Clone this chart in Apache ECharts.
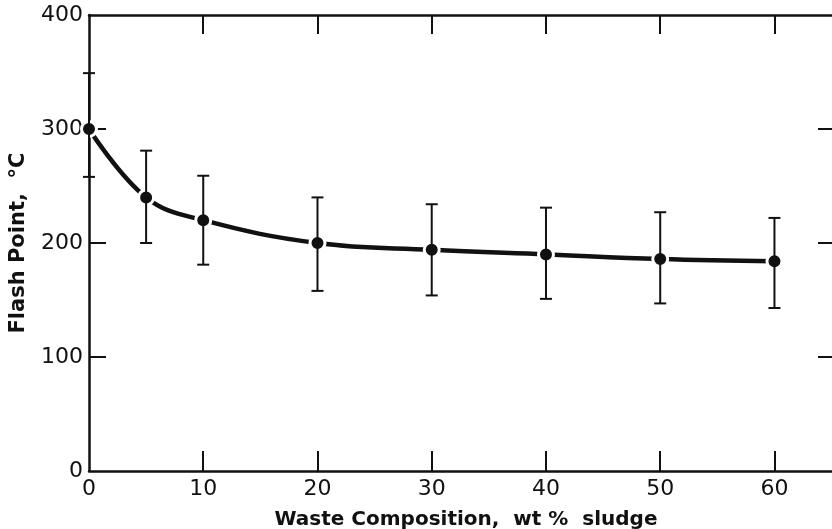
<!DOCTYPE html>
<html>
<head>
<meta charset="utf-8">
<script src="https://cdn.jsdelivr.net/npm/echarts@6/dist/echarts.min.js"></script>
<style>
  html, body { margin: 0; padding: 0; background: #fff; }
  #chart { width: 832px; height: 529px; }
</style>
</head>
<body>
<div id="chart"></div>
<script>
// values
const composition = [0, 5, 10, 20, 30, 40, 50, 60];        // wt % sludge
const flashPoint  = [300, 240, 220, 200, 194, 190, 186, 184]; // mean, °C
const flashLow    = [258, 200, 181, 158, 154, 151, 147, 143];
const flashHigh   = [349, 281, 259, 240, 234, 231, 227, 222];
const xTickLabels = [0, 10, 20, 30, 40, 50, 60];
const xInnerTicks = [10, 20, 30, 40, 50, 60];
const yTickLabels = [0, 100, 200, 300, 400];
const yInnerTicks = [100, 200, 300];

const ink = "#111";
const font = "DejaVu Sans";

const chart = echarts.init(document.getElementById("chart"));

const errorData = composition.map((x, i) => [x, flashLow[i], flashHigh[i]]);

const option = {
  backgroundColor: "#fff",
  animation: false,
  grid: { left: 89, right: -11, top: 15, bottom: 58, outerBoundsMode: "none" },
  xAxis: [
    {
      type: "value",
      min: 0,
      max: 66,
      position: "bottom",
      name: "Waste Composition,  wt %  sludge",
      nameLocation: "middle",
      nameGap: 39,
      nameTextStyle: { color: ink, fontFamily: font, fontSize: 20, fontWeight: "bold" },
      axisLine: { show: true, onZero: false, lineStyle: { color: ink, width: 2.5 } },
      axisTick: { show: true, inside: true, length: 20, customValues: xInnerTicks, lineStyle: { color: ink, width: 2 } },
      axisLabel: { color: ink, fontFamily: font, fontSize: 22, margin: 7, customValues: xTickLabels },
      splitLine: { show: false },
    },
    {
      type: "value",
      min: 0,
      max: 66,
      position: "top",
      axisLine: { show: true, onZero: false, lineStyle: { color: ink, width: 2.5 } },
      axisTick: { show: true, inside: true, length: 19, customValues: xInnerTicks, lineStyle: { color: ink, width: 2 } },
      axisLabel: { show: false },
      splitLine: { show: false },
    },
  ],
  yAxis: [
    {
      type: "value",
      min: 0,
      max: 400,
      position: "left",
      name: "Flash Point,  °C",
      nameLocation: "middle",
      nameRotate: 90,
      nameGap: 60,
      nameTextStyle: { color: ink, fontFamily: font, fontSize: 21, fontWeight: "bold" },
      axisLine: { show: true, onZero: false, lineStyle: { color: ink, width: 2.5 } },
      axisTick: { show: true, inside: true, length: 17, customValues: yInnerTicks, lineStyle: { color: ink, width: 2 } },
      axisLabel: { color: ink, fontFamily: font, fontSize: 22, margin: 6, customValues: yTickLabels },
      splitLine: { show: false },
    },
    {
      type: "value",
      min: 0,
      max: 400,
      position: "right",
      axisLine: { show: false, onZero: false },
      axisTick: { show: true, inside: true, length: 25, customValues: yInnerTicks, lineStyle: { color: ink, width: 2 } },
      axisLabel: { show: false },
      splitLine: { show: false },
    },
  ],
  series: [
    {
      type: "line",
      xAxisIndex: 0,
      yAxisIndex: 0,
      data: composition.map((x, i) => [x, flashPoint[i]]),
      smooth: 0.4,
      symbol: "circle",
      symbolSize: 15,
      lineStyle: { color: ink, width: 4.5 },
      itemStyle: { color: ink, borderColor: "#fff", borderWidth: 3 },
      z: 2,
    },
    {
      type: "custom",
      xAxisIndex: 0,
      yAxisIndex: 0,
      data: errorData,
      encode: { x: 0, y: [1, 2] },
      z: 3,
      renderItem: (params, api) => {
        const x = api.value(0);
        const top = api.coord([x, api.value(2)]);
        const bot = api.coord([x, api.value(1)]);
        const half = 6;
        const style = { stroke: ink, lineWidth: 2 };
        return {
          type: "group",
          children: [
            { type: "line", shape: { x1: top[0], y1: top[1], x2: bot[0], y2: bot[1] }, style },
            { type: "line", shape: { x1: top[0] - half, y1: top[1], x2: top[0] + half, y2: top[1] }, style },
            { type: "line", shape: { x1: bot[0] - half, y1: bot[1], x2: bot[0] + half, y2: bot[1] }, style },
          ],
        };
      },
    },
  ],
};

chart.setOption(option);
</script>
</body>
</html>
